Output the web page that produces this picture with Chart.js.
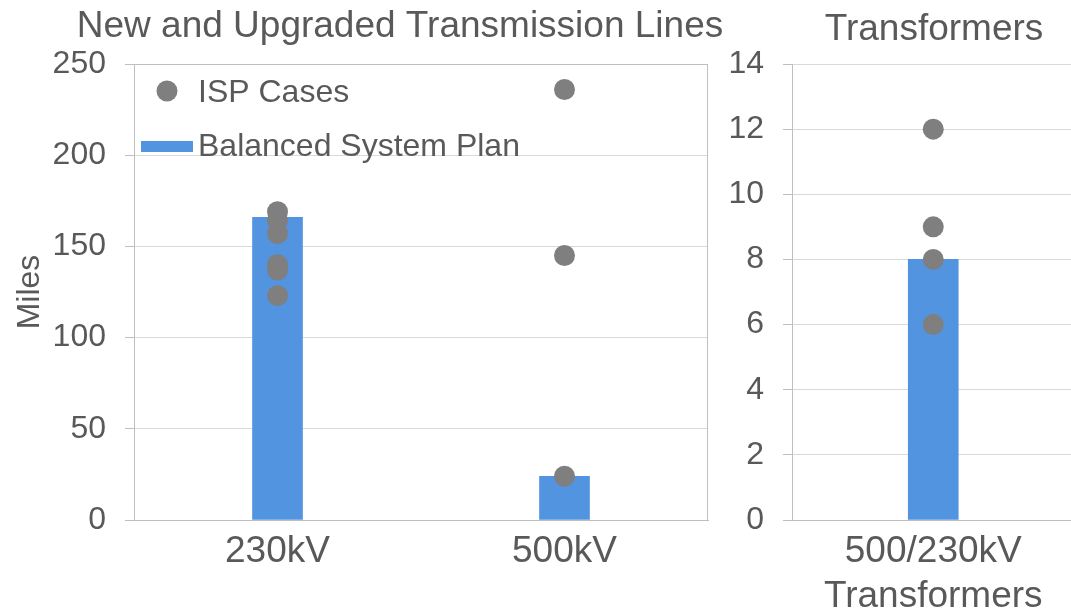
<!DOCTYPE html>
<html>
<head>
<meta charset="utf-8">
<script src="https://cdn.jsdelivr.net/npm/chart.js@4"></script>
<style>
    html, body { margin: 0; padding: 0; background: #fff; overflow: hidden; }
    #wrapLines { position: absolute; left: 0; top: 0; width: 730px; height: 612px; }
    #wrapXfmr { position: absolute; left: 715px; top: 0; width: 370px; height: 612px; }
</style>
</head>
<body>
<div id="wrapLines"><canvas id="linesChart"></canvas></div>
<div id="wrapXfmr"><canvas id="xfmrChart"></canvas></div>
<script>
// values
const lineCategories = ['230kV', '500kV'];
const lineBalancedPlan = [166, 24];
const lineIsp230 = [169, 164, 157, 140, 137, 123];
const lineIsp500 = [236, 145, 24];
const lineTicks = [0, 50, 100, 150, 200, 250];

const xfmrCategories = [['500/230kV', 'Transformers']];
const xfmrBalancedPlan = [8];
const xfmrIsp = [12, 9, 8, 6];
const xfmrTicks = [0, 2, 4, 6, 8, 10, 12, 14];

const FONT = '"Liberation Sans", Arial, sans-serif';
const TEXT = '#595959';
const BAR_BLUE = '#5294e0';
const DOT_GREY = '#7f7f7f';
const GRID = '#d9d9d9';
const AXIS = '#bfbfbf';

Chart.defaults.font.family = FONT;
Chart.defaults.color = TEXT;

// title drawn at a fixed centre so it lines up like the slide
const panelTitle = {
    id: 'panelTitle',
    afterDraw(chart, args, opts) {
        const ctx = chart.ctx;
        ctx.save();
        ctx.font = '37px ' + FONT;
        ctx.fillStyle = TEXT;
        ctx.textAlign = 'center';
        ctx.textBaseline = 'alphabetic';
        ctx.fillText(opts.text, opts.x, opts.y);
        ctx.restore();
    }
};

// outline round the plot area of the left panel
const panelBorder = {
    id: 'panelBorder',
    beforeDatasetsDraw(chart, args, opts) {
        if (!opts.enabled) return;
        const {ctx, chartArea} = chart;
        ctx.save();
        ctx.strokeStyle = AXIS;
        ctx.lineWidth = 1;
        ctx.strokeRect(Math.round(chartArea.left) + 0.5, Math.round(chartArea.top) + 0.5,
            Math.round(chartArea.width) - 1, Math.round(chartArea.height));
        ctx.restore();
    }
};

// legend sits inside the plot, top left
const insideLegend = {
    id: 'insideLegend',
    afterDraw(chart, args, opts) {
        if (!opts.enabled) return;
        const {ctx, chartArea} = chart;
        const bsp = chart.data.datasets[0];
        const isp = chart.data.datasets[1];
        const x0 = chartArea.left, y0 = chartArea.top;
        ctx.save();
        ctx.font = '32px ' + FONT;
        ctx.textBaseline = 'alphabetic';
        ctx.fillStyle = isp.pointBackgroundColor;
        ctx.beginPath();
        ctx.arc(x0 + 33, y0 + 27, 10.5, 0, Math.PI * 2);
        ctx.fill();
        ctx.fillStyle = TEXT;
        ctx.fillText(isp.label, x0 + 64, y0 + 38);
        ctx.fillStyle = bsp.backgroundColor;
        ctx.fillRect(x0 + 7, y0 + 77, 52, 11);
        ctx.fillStyle = TEXT;
        ctx.fillText(bsp.label, x0 + 64, y0 + 92);
        ctx.restore();
    }
};

function makeChart(canvasId, cfg) {
    const ctx = document.getElementById(canvasId).getContext('2d');
    const ispPoints = [];
    cfg.isp.forEach((vals, i) => {
        vals.forEach(v => ispPoints.push({ x: cfg.labels[i], y: v }));
    });

    return new Chart(ctx, {
        type: 'bar',
        data: {
            labels: cfg.labels,
            datasets: [
                {
                    label: 'Balanced System Plan',
                    data: cfg.plan,
                    backgroundColor: BAR_BLUE,
                    barThickness: 50,
                    order: 2
                },
                {
                    type: 'line',
                    label: 'ISP Cases',
                    data: ispPoints,
                    showLine: false,
                    pointRadius: 10.5,
                    pointHoverRadius: 10.5,
                    pointBorderWidth: 0,
                    pointBackgroundColor: DOT_GREY,
                    pointBorderColor: DOT_GREY,
                    order: 1
                }
            ]
        },
        options: {
            responsive: true,
            maintainAspectRatio: false,
            animation: false,
            layout: {
                padding: { top: 64, left: 0, right: cfg.padRight, bottom: 0 }
            },
            scales: {
                x: {
                    grid: { drawOnChartArea: false, drawTicks: false },
                    border: { display: true, color: AXIS },
                    ticks: {
                        font: { size: 37, lineHeight: 1.2 },
                        color: TEXT,
                        padding: 10,
                        maxRotation: 0
                    },
                    afterFit(scale) { scale.height = 92; }
                },
                y: {
                    min: cfg.ticks[0],
                    max: cfg.ticks[cfg.ticks.length - 1],
                    grid: { color: GRID, tickColor: AXIS, tickLength: 9 },
                    border: { display: true, color: AXIS },
                    ticks: {
                        stepSize: cfg.ticks[1] - cfg.ticks[0],
                        font: { size: 32 },
                        color: TEXT,
                        padding: 19
                    },
                    title: {
                        display: !!cfg.yTitle,
                        text: cfg.yTitle || '',
                        font: { size: 32, lineHeight: 1.2 },
                        color: TEXT,
                        padding: { top: 11, bottom: 0 }
                    },
                    afterFit(scale) { scale.width = cfg.yWidth; }
                }
            },
            plugins: {
                legend: { display: false },
                tooltip: { enabled: false },
                panelTitle: cfg.title,
                panelBorder: { enabled: cfg.border },
                insideLegend: { enabled: cfg.legend }
            }
        },
        plugins: [panelTitle, panelBorder, insideLegend]
    });
}

makeChart('linesChart', {
    labels: lineCategories,
    plan: lineBalancedPlan,
    isp: [lineIsp230, lineIsp500],
    ticks: lineTicks,
    yTitle: 'Miles',
    yWidth: 134,
    padRight: 22,
    border: true,
    legend: true,
    title: { text: 'New and Upgraded Transmission Lines', x: 400, y: 37 }
});

makeChart('xfmrChart', {
    labels: xfmrCategories,
    plan: xfmrBalancedPlan,
    isp: [xfmrIsp],
    ticks: xfmrTicks,
    yTitle: '',
    yWidth: 77,
    padRight: 0,
    border: false,
    legend: false,
    title: { text: 'Transformers', x: 219, y: 40 }
});
</script>
</body>
</html>
